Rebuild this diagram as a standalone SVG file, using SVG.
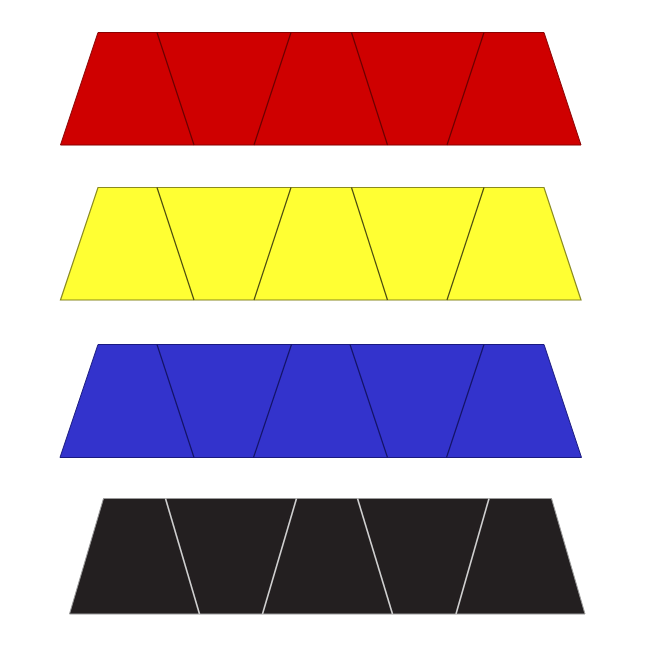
<svg xmlns="http://www.w3.org/2000/svg" width="650" height="650" viewBox="0 0 650 650">
<style>
.red{fill:#cf0000;stroke:#8a0000;stroke-width:1}
.red-d{stroke:#6a0000;stroke-width:1.2;fill:none}
.yel{fill:#ffff33;stroke:#8a8a20;stroke-width:1.2}
.yel-d{stroke:#4a4a10;stroke-width:1.2;fill:none}
.blu{fill:#3333cc;stroke:#1a1a80;stroke-width:1}
.blu-d{stroke:#141466;stroke-width:1.2;fill:none}
.blk{fill:#231f20;stroke:#9a9a9a;stroke-width:1}
.blk-d{stroke:#d0d0d0;stroke-width:1.6;fill:none}
</style>
<rect width="650" height="650" fill="#ffffff"/>
<g id="red-band">
  <polygon class="red" points="98,32.5 544,32.5 581,145 60.5,145"/>
  <g class="red-d">
    <line x1="157" y1="32.5" x2="194" y2="145"/>
    <line x1="291" y1="32.5" x2="254" y2="145"/>
    <line x1="351.5" y1="32.5" x2="387.5" y2="145"/>
    <line x1="484" y1="32.5" x2="447" y2="145"/>
  </g>
</g>
<g id="yellow-band">
  <polygon class="yel" points="98,187.5 544,187.5 581,300 60.5,300"/>
  <g class="yel-d">
    <line x1="157" y1="187.5" x2="194" y2="300"/>
    <line x1="291" y1="187.5" x2="254" y2="300"/>
    <line x1="351.5" y1="187.5" x2="387.5" y2="300"/>
    <line x1="484" y1="187.5" x2="447" y2="300"/>
  </g>
</g>
<g id="blue-band">
  <polygon class="blu" points="98,344.5 544,344.5 581.5,457.5 60,457.5"/>
  <g class="blu-d">
    <line x1="157" y1="344.5" x2="194" y2="457.5"/>
    <line x1="291.5" y1="344.5" x2="253.5" y2="457.5"/>
    <line x1="350" y1="344.5" x2="387.5" y2="457.5"/>
    <line x1="484" y1="344.5" x2="446.5" y2="457.5"/>
  </g>
</g>
<g id="black-band">
  <polygon class="blk" points="103.5,498.5 551.5,498.5 585,614 69.5,614"/>
  <g class="blk-d">
    <line x1="165.5" y1="498.5" x2="199.5" y2="614"/>
    <line x1="296.5" y1="498.5" x2="262.5" y2="614"/>
    <line x1="357.5" y1="498.5" x2="392.5" y2="614"/>
    <line x1="489" y1="498.5" x2="456" y2="614"/>
  </g>
</g>
</svg>
